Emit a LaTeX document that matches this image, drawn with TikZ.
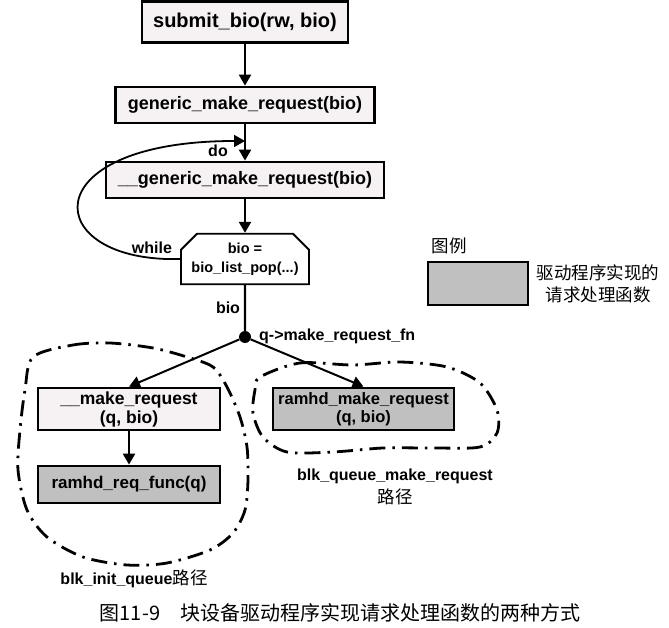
\documentclass[tikz,border=0pt]{standalone}
\usepackage{fontspec}
\setmainfont{Liberation Sans}
\newfontfamily\cjk{Noto Sans CJK SC}
\usetikzlibrary{arrows.meta,shapes.misc}
\definecolor{boxpink}{HTML}{F6F1F3}
\definecolor{drvgray}{HTML}{C0C0C0}

\tikzset{
  fnbox/.style={draw, line width=2.8pt, fill=boxpink, align=center,
                font=\bfseries\fontsize{18}{19}\selectfont, inner sep=0pt},
  drvbox/.style={fnbox, fill=drvgray},
  flow/.style={-{Triangle[length=11pt,width=12pt]}, line width=2.3pt},
  pathline/.style={line width=2.8pt, dash pattern=on 16pt off 7pt on 2.5pt off 7pt},
  lbl/.style={font=\bfseries\fontsize{16}{18}\selectfont, inner sep=1pt}
}

\begin{document}
\begin{tikzpicture}[x=1pt,y=-1pt]
\useasboundingbox (0,0) rectangle (669,628);
% main call chain
\node[fnbox, minimum width=206pt, minimum height=41pt,
      font=\bfseries\fontsize{20}{21}\selectfont] (submit) at (245,22) {submit\_bio(rw, bio)};
\node[fnbox, minimum width=259pt, minimum height=36pt] (gen) at (245,105) {generic\_make\_request(bio)};
\node[fnbox, minimum width=278pt, minimum height=36pt] (ugen) at (245,180) {\_\_generic\_make\_request(bio)};
\node[draw, line width=1.8pt, fill=white, chamfered rectangle,
      chamfered rectangle corners={north west, north east},
      chamfered rectangle xsep=7pt, chamfered rectangle ysep=9pt,
      minimum width=128pt, minimum height=50pt, inner sep=0pt, align=center,
      font=\bfseries\fontsize{14.5}{19}\selectfont] (pop) at (245,259) {bio =\\bio\_list\_pop(...)};
\node[circle, fill, inner sep=0pt, minimum size=12pt] (fork) at (245,337) {};
\coordinate (doin) at (245,141);

% the two paths
\node[fnbox, minimum width=182pt, minimum height=42pt,
      font=\bfseries\fontsize{17.5}{19}\selectfont] (lmake) at (129,409) {\_\_make\_request\\(q, bio)};
\node[drvbox, minimum width=182pt, minimum height=37pt,
      font=\bfseries\fontsize{17}{19}\selectfont] (rfunc) at (129,484.5) {ramhd\_req\_func(q)};
\node[drvbox, minimum width=181pt, minimum height=42pt,
      font=\bfseries\fontsize{16.5}{18}\selectfont] (rmake) at (363.5,409) {ramhd\_make\_request\\(q, bio)};

% legend
\node[font=\cjk\fontsize{17.5}{19}\selectfont] (legtitle) at (449,246) {图例};
\node[drvbox, minimum width=100pt, minimum height=43pt] (legbox) at (478,283.5) {};
\node[font=\cjk\fontsize{17.5}{22}\selectfont, align=center] (legtext) at (598,284) {驱动程序实现的\\请求处理函数};

% connectors
\path [flow] (submit) edge (gen);
\path [flow] (gen) edge (ugen);
\path [flow] (ugen) edge (pop);
\draw [flow, line width=1.8pt] (pop.west) .. controls (40,263) and (30,141) .. (doin);
\draw [line width=2.2pt] (pop) -- (fork);
\path [flow, line width=2pt] (fork) edge (lmake.north);
\path [flow, line width=2pt] (fork) edge (rmake.north);
\path [flow] (lmake) edge (rfunc);

% labels
\node[lbl] (dolbl) at (218,151) {do};
\node[lbl] (whilelbl) at (152,248) {while};
\node[lbl] (biolbl) at (228,308) {bio};
\node[lbl, anchor=west] (fnlbl) at (258,336) {q->make\_request\_fn};

% path outlines
\draw[pathline] plot[smooth cycle] coordinates {(33,357) (73,345) (110,343) (153,348) (187,357) (213,367)
  (227,387) (240,417) (247,447) (248,480) (245,510) (233,533) (210,550) (167,563) (127,565)
  (83,557) (47,537) (27,510) (18,470) (20,430) (25,390)};
\draw[pathline] plot[smooth cycle] coordinates {(260,377) (300,363) (353,365) (400,362) (447,367)
  (480,383) (497,410) (497,433) (480,447) (433,448) (383,448) (333,452) (287,452) (263,437)
  (253,413) (255,390)};
\node[lbl] (qlbl) at (395,476) {blk\_queue\_make\_request};
\node[font=\cjk\fontsize{17.5}{19}\selectfont] (qlbl2) at (395,497) {路径};
\node[lbl] (ilbl) at (134,579) {blk\_init\_queue{\cjk\mdseries\fontsize{17.5}{19}\selectfont 路径}};

% caption
\node[font=\cjk\fontsize{20}{22}\selectfont] (caption) at (340,613) {图11-9\quad 块设备驱动程序实现请求处理函数的两种方式};
\end{tikzpicture}
\end{document}
